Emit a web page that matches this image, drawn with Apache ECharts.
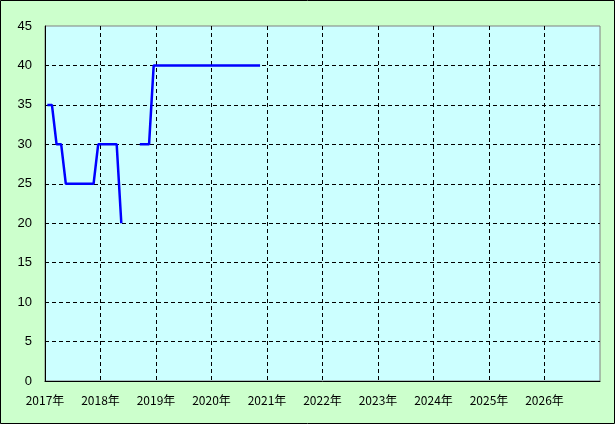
<!DOCTYPE html>
<html><head><meta charset="utf-8">
<script src="https://cdn.jsdelivr.net/npm/echarts@6/dist/echarts.min.js"></script>
<style>html,body{margin:0;padding:0;background:#ccffcc;}#c{width:615px;height:424px;}</style>
</head><body><div id="c"></div>
<script>
// Monthly data (YYYY-MM), null = no data
const months = [
 '2017-01','2017-02','2017-03','2017-04','2017-05','2017-06','2017-07','2017-08','2017-09','2017-10','2017-11','2017-12',
 '2018-01','2018-02','2018-03','2018-04','2018-05','2018-06','2018-07','2018-08','2018-09','2018-10','2018-11','2018-12',
 '2019-01','2019-02','2019-03','2019-04','2019-05','2019-06','2019-07','2019-08','2019-09','2019-10','2019-11','2019-12',
 '2020-01','2020-02','2020-03','2020-04','2020-05','2020-06','2020-07','2020-08','2020-09','2020-10','2020-11'
];
const values = [
 35,35,30,30,25,25,25,25,25,25,25,30,
 30,30,30,30,20,null,null,null,30,30,30,40,
 40,40,40,40,40,40,40,40,40,40,40,40,
 40,40,40,40,40,40,40,40,40,40,40
];
const yearTicks = [2017,2018,2019,2020,2021,2022,2023,2024,2025,2026];
const yTicks = [0,5,10,15,20,25,30,35,40,45];

const seriesData = months.map((m, i) => {
  const [y, mo] = m.split('-').map(Number);
  return [y + (mo - 0.5) / 12, values[i]];
});

const chart = echarts.init(document.getElementById('c'), null, {renderer: 'canvas'});
chart.setOption({
  animation: false,
  backgroundColor: '#ccffcc',
  graphic: [{type: 'rect', shape: {x: 0.5, y: 0.5, width: 614, height: 423}, style: {fill: 'none', stroke: '#000', lineWidth: 1}, z: 100}],
  grid: {left: 45, right: 15, top: 26, bottom: 43, show: true, backgroundColor: '#ccffff', borderColor: '#808080', borderWidth: 1},
  xAxis: {
    type: 'value', min: 2017, max: 2027, interval: 1,
    axisLine: {show: true, onZero: false, lineStyle: {color: '#000', width: 1}},
    axisTick: {show: false},
    axisLabel: {fontSize: 12, color: '#000', margin: 13, fontFamily: '"Noto Sans CJK JP", sans-serif',
      formatter: v => (yearTicks.indexOf(v) >= 0 ? v + '年' : '')},
    splitLine: {show: true, showMinLine: false, showMaxLine: false, lineStyle: {color: '#000', type: [4, 3], width: 1}}
  },
  yAxis: {
    type: 'value', min: 0, max: 45, interval: 5,
    axisLine: {show: true, lineStyle: {color: '#000', width: 1}},
    axisTick: {show: false},
    axisLabel: {fontSize: 13, color: '#000', margin: 13, fontFamily: '"Liberation Sans", sans-serif',
      formatter: v => (yTicks.indexOf(v) >= 0 ? String(v) : '')},
    splitLine: {show: true, showMinLine: false, showMaxLine: false, lineStyle: {color: '#000', type: [4, 3], width: 1}}
  },
  series: [{
    type: 'line', data: seriesData, showSymbol: false, connectNulls: false,
    lineStyle: {color: '#0000ff', width: 2.5}, itemStyle: {color: '#0000ff'}
  }]
});
</script></body></html>
